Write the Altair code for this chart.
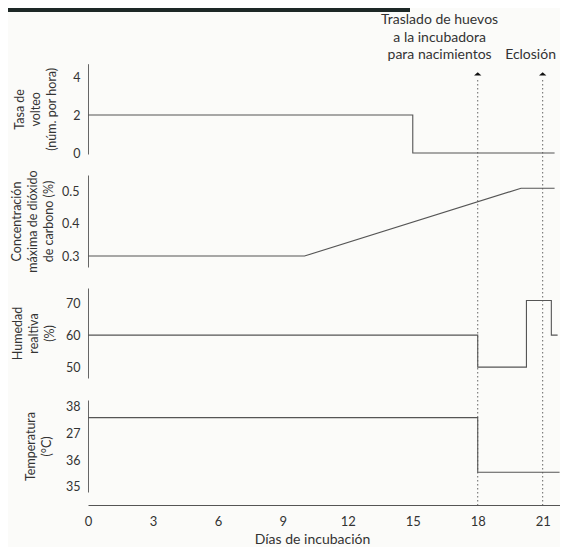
import altair as alt
import pandas as pd

# ---- data ----
days_turn = [0, 15, 21.55]
turn_rate = [2, 0, 0]

days_co2 = [0, 10, 20, 21.55]
co2_max = [0.3, 0.3, 0.51, 0.51]

days_hum = [0, 18, 20.25, 21.4, 21.69]
humidity = [60, 50, 70.8, 60, 60]

days_temp = [0, 18, 21.78]
temperature = [37.6, 35.55, 35.55]

event_days = [18, 21]
x_ticks = [0, 3, 6, 9, 12, 15, 18, 21]
turn_ticks = [0, 2, 4]
co2_ticks = [0.3, 0.4, 0.5]
hum_ticks = [50, 60, 70]
temp_ticks = [35, 36, 37, 38]

note_days = [16.24, 20.44]
note_texts = ["Traslado de huevos\na la incubadora\npara nacimientos", "Eclosión"]

FONT = "Lato"
TXT = "#333333"
LINE = "#555555"

xscale = alt.Scale(domain=[0, 21.8], nice=False, zero=False)
xaxis = alt.Axis(values=x_ticks, title="Días de incubación", ticks=False, tickSize=0,
                 grid=False, labelPadding=10, domainColor="#555555", labelFontSize=13,
                 titleFontSize=14, titleFontWeight="normal", titleX=224, titleY=41,
                 titleBaseline="bottom", labelFlush=False, labelColor=TXT, titleColor=TXT,
                 labelFont=FONT, titleFont=FONT)


def X(field):
    return alt.X(f"{field}:Q", scale=xscale, axis=xaxis)


def yaxis(title, values, pad, tx, fmt=None, expr=None):
    kw = dict(title=title, values=values, orient="left", ticks=False, tickSize=0,
              grid=False, labelPadding=pad, domainColor="#666666", labelFontSize=12.5,
              titleFontSize=12.5, titleFontWeight="normal", titleX=tx,
              titleLineHeight=16, titleColor=TXT, labelColor=TXT,
              labelFont=FONT, titleFont=FONT)
    if fmt:
        kw["format"] = fmt
    if expr:
        kw["labelExpr"] = expr
    return alt.Axis(**kw)


def panel(days, vals, domain, rng, axis, interp):
    df = pd.DataFrame({"day": days, "v": vals})
    return alt.Chart(df).mark_line(interpolate=interp, color=LINE, strokeWidth=1.1).encode(
        x=X("day"),
        y=alt.Y("v:Q", scale=alt.Scale(domain=domain, range=rng, nice=False, zero=False),
                axis=axis),
    )


p_turn = panel(days_turn, turn_rate, [-0.05, 4.7], [94, 3.7],
               yaxis(["Tasa de", "volteo", "(núm. por hora)"], turn_ticks, 8, -62), "step-after")
p_co2 = panel(days_co2, co2_max, [0.266, 0.551], [207, 115],
              yaxis(["Concentración", "máxima de dióxido", "de carbono (%)"], co2_ticks, 9, -65,
                    fmt=".1f"), "linear")
p_hum = panel(days_hum, humidity, [46.6, 74.7], [318, 228],
              yaxis(["Humedad", "realtiva", "(%)"], hum_ticks, 8, -64), "step-after")
p_temp = panel(days_temp, temperature, [34.81, 38.26], [432, 340],
               yaxis(["Temperatura", "(°C)"], temp_ticks, 8, -51,
                     expr="datum.value == 37 ? '27' : datum.label"), "step-after")

ev = pd.DataFrame({"day": event_days})
rules = alt.Chart(ev).mark_rule(color="#666666", strokeDash=[1.5, 2.5], strokeWidth=1).encode(
    x=X("day"), y=alt.value(20), y2=alt.value(445))
arrows = alt.Chart(ev).mark_point(
    shape="M -0.6 0.25 L 0.6 0.25 L 0 -0.3 Z", filled=True, color="#111111", size=150,
    opacity=1).encode(x=X("day"), y=alt.value(14))

n1 = alt.Chart(pd.DataFrame({"day": note_days[:1], "t": note_texts[:1]})).mark_text(
    align="center", baseline="top", lineBreak="\n", lineHeight=17.5, fontSize=14,
    font=FONT, color=TXT).encode(x=X("day"), y=alt.value(-47), text="t:N")
n2 = alt.Chart(pd.DataFrame({"day": note_days[1:], "t": note_texts[1:]})).mark_text(
    align="center", baseline="top", fontSize=14, font=FONT, color=TXT).encode(
    x=X("day"), y=alt.value(-12), text="t:N")

bar = alt.Chart(pd.DataFrame({"k": [0]})).mark_rect(color="#1d2826").encode(
    x=alt.value(-80), x2=alt.value(322), y=alt.value(-52), y2=alt.value(-48))

chart = alt.layer(bar, rules, arrows, n1, n2, p_turn, p_co2, p_hum, p_temp).resolve_scale(
    y="independent").properties(
    width=472, height=445,
    autosize=alt.AutoSizeParams(type="none"),
    padding={"left": 80, "top": 52, "right": 0, "bottom": 42},
    background="#fbfbf9",
).configure_view(stroke=None)

chart.save("out.html", embed_options={"renderer": "svg", "actions": False})
